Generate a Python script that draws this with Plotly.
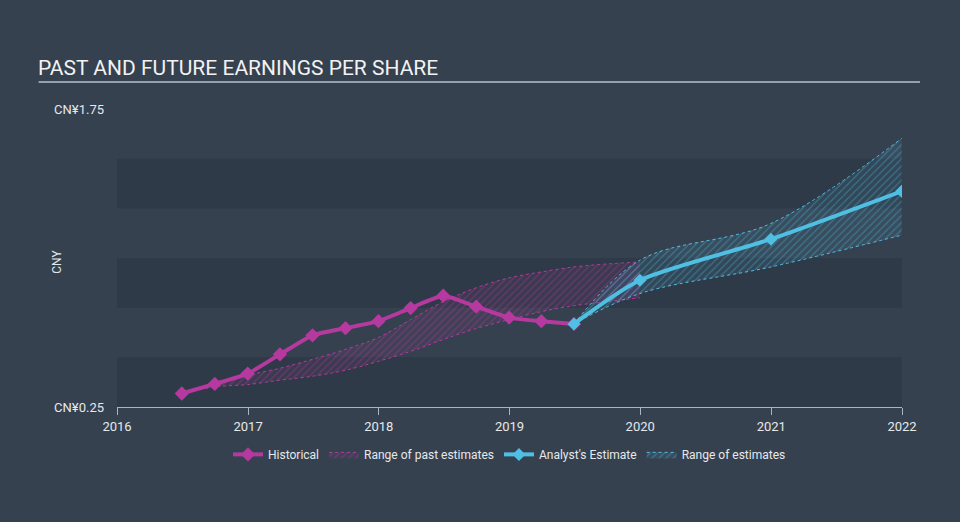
import plotly.graph_objects as go

# ---------------- data ----------------
hist_dates = ["2016-06-30", "2016-09-30", "2016-12-31", "2017-03-31", "2017-06-30",
              "2017-09-30", "2017-12-31", "2018-03-31", "2018-06-30", "2018-09-30",
              "2018-12-31", "2019-03-31", "2019-06-30"]
hist_eps = [0.318, 0.366, 0.418, 0.515, 0.611, 0.647, 0.682, 0.748, 0.810, 0.755,
            0.700, 0.682, 0.668]

past_dates = hist_dates + ["2019-09-30", "2019-12-31"]
past_high = [0.318, 0.363, 0.410, 0.445, 0.490, 0.540, 0.600, 0.690, 0.780, 0.850,
             0.900, 0.930, 0.955, 0.970, 0.980]
past_low = [0.318, 0.351, 0.363, 0.385, 0.405, 0.435, 0.480, 0.530, 0.590, 0.645,
            0.690, 0.730, 0.760, 0.780, 0.800]

est_dates = ["2019-06-30", "2019-12-31", "2020-12-31", "2021-12-31"]
est_eps = [0.668, 0.888, 1.095, 1.336]
est_high = [0.668, 0.989, 1.174, 1.602]
est_low = [0.668, 0.821, 0.955, 1.115]

y_ticks = [0.25, 1.75]
y_tick_text = ["CN¥0.25", "CN¥1.75"]
x_ticks = ["2016-01-01", "2017-01-01", "2018-01-01", "2019-01-01",
           "2020-01-01", "2021-01-01", "2022-01-01"]
x_tick_text = ["2016", "2017", "2018", "2019", "2020", "2021", "2022"]
band_edges = [(0.25, 0.5), (0.75, 1.0), (1.25, 1.5)]

# ---------------- style ----------------
BG = "#35414f"
BAND = "#2f3a48"
MAG = "#b5399e"
BLUE = "#4fc0e3"
TXT = "#e6e8eb"
FONT = "Roboto"

fig = go.Figure()

# past range
fig.add_trace(go.Scatter(
    x=past_dates, y=past_low, mode="lines", line=dict(color=MAG, width=1, dash="dot", shape="spline"),
    showlegend=False, hoverinfo="skip"))
fig.add_trace(go.Scatter(
    x=past_dates, y=past_high, mode="lines", name="Range of past estimates",
    line=dict(color=MAG, width=1, dash="dot", shape="spline"),
    fill="tonexty", fillcolor="rgba(181,57,158,0.12)",
    fillpattern=dict(shape="/", fgcolor="rgba(181,57,158,0.7)", bgcolor="rgba(181,57,158,0.10)",
                     size=5, solidity=0.25),
    legendrank=2))

# forecast range
fig.add_trace(go.Scatter(
    x=est_dates, y=est_low, mode="lines", line=dict(color=BLUE, width=1, dash="dot", shape="spline"),
    showlegend=False, hoverinfo="skip"))
fig.add_trace(go.Scatter(
    x=est_dates, y=est_high, mode="lines", name="Range of estimates",
    line=dict(color=BLUE, width=1, dash="dot", shape="spline"),
    fill="tonexty", fillcolor="rgba(79,192,227,0.12)",
    fillpattern=dict(shape="/", fgcolor="rgba(79,192,227,0.7)", bgcolor="rgba(79,192,227,0.10)",
                     size=5, solidity=0.25),
    legendrank=4))

# historical line
fig.add_trace(go.Scatter(
    x=hist_dates, y=hist_eps, mode="lines+markers", name="Historical",
    line=dict(color=MAG, width=4, shape="spline", smoothing=0.5),
    marker=dict(symbol="diamond", size=11, color=MAG),
    legendrank=1))

# analyst estimate line
fig.add_trace(go.Scatter(
    x=est_dates, y=est_eps, mode="lines+markers", name="Analyst's Estimate",
    line=dict(color=BLUE, width=4, shape="spline", smoothing=0.7),
    marker=dict(symbol="diamond", size=10, color=BLUE),
    legendrank=3))

shapes = []
for lo, hi in band_edges:
    shapes.append(dict(type="rect", xref="paper", yref="y", x0=0, x1=1, y0=lo, y1=hi,
                       fillcolor=BAND, line=dict(width=0), layer="below"))
# title underline
shapes.append(dict(type="line", xref="paper", yref="paper", x0=-0.0999, x1=1.0229,
                   y0=1.0907, y1=1.0907, line=dict(color="#b9c0c9", width=1.5)))

fig.update_layout(
    width=960, height=522,
    paper_bgcolor=BG, plot_bgcolor=BG,
    margin=dict(l=116.5, r=58, t=109, b=115.3),
    font=dict(family=FONT, color=TXT, size=13),
    title=dict(text="PAST AND FUTURE EARNINGS PER SHARE", x=38 / 960, xanchor="left",
               y=1 - 68 / 522, yanchor="middle",
               font=dict(family=FONT, size=21, color="#f2f2f2")),
    shapes=shapes,
    showlegend=True,
    legend=dict(orientation="h", x=0.5, xanchor="center", y=-0.159, yanchor="middle",
                font=dict(family=FONT, size=12, color=TXT), bgcolor="rgba(0,0,0,0)",
                itemwidth=30, traceorder="normal"),
    annotations=[dict(text="CNY", xref="paper", yref="paper", x=(57 - 116.5) / 785.5, y=0.486,
                      textangle=-90, showarrow=False, font=dict(family=FONT, size=12, color=TXT),
                      xanchor="center", yanchor="middle")],
    hovermode=False,
)

fig.update_xaxes(
    type="date", range=["2016-01-01", "2022-01-01"],
    tickvals=x_ticks, ticktext=x_tick_text,
    showgrid=False, zeroline=False,
    showline=True, linecolor="#aab4c0", linewidth=1,
    ticks="outside", ticklen=7, tickcolor="#aab4c0",
    tickfont=dict(family=FONT, size=13, color=TXT),
)
fig.update_yaxes(
    range=[0.25, 1.75], tickvals=y_ticks, ticktext=y_tick_text,
    showgrid=False, zeroline=False, showline=False,
    ticks="", ticklabelstandoff=12,
    tickfont=dict(family=FONT, size=13, color=TXT),
)

fig.write_html("out.html", config={"displayModeBar": False},
               post_script="document.body.style.margin='0';document.body.style.padding='0';"
                           "document.body.style.overflow='hidden';")
